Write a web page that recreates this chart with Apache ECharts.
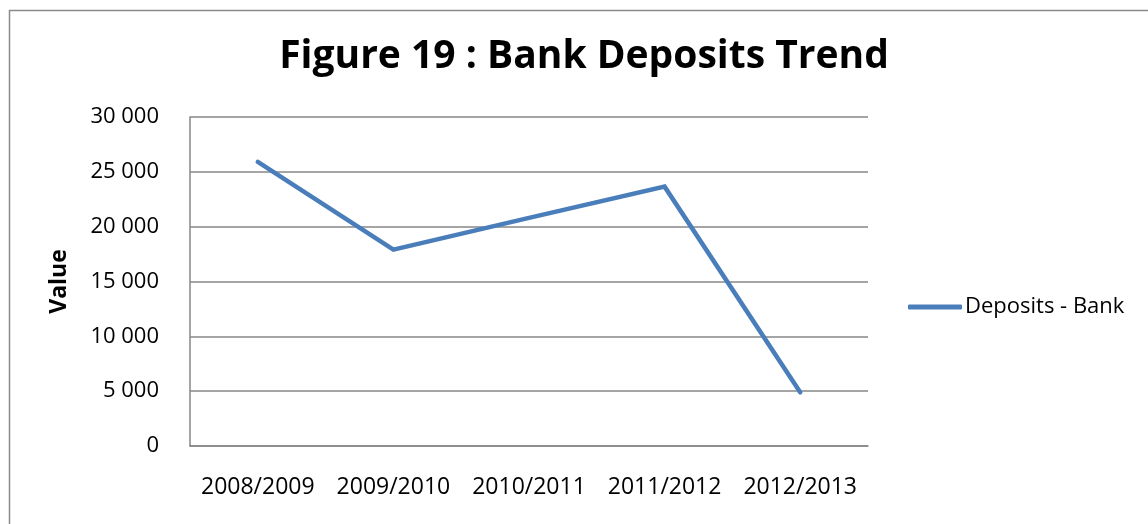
<!DOCTYPE html>
<html>
<head>
<meta charset="utf-8">
<style>
  html, body { margin: 0; padding: 0; background: #ffffff; }
  #chart { width: 1148px; height: 524px; }
</style>
<script src="https://cdn.jsdelivr.net/npm/echarts@6/dist/echarts.min.js"></script>
</head>
<body>
<div id="chart"></div>
<script>
const categories = ["2008/2009", "2009/2010", "2010/2011", "2011/2012", "2012/2013"];
const depositsBank = [25900, 17900, 20800, 23650, 4900];
const seriesName = "Deposits - Bank";
const titleText = "Figure 19 : Bank Deposits Trend";
const yAxisName = "Value";

function fmt(v) {
  return String(v).replace(/\B(?=(\d{3})+(?!\d))/g, " ");
}

const chart = echarts.init(document.getElementById('chart'), null, { renderer: 'canvas' });
const FONT = "'Open Sans', 'Noto Sans', sans-serif";
chart.setOption({
  backgroundColor: '#ffffff',
  animation: false,
  textStyle: { fontFamily: FONT },
  graphic: [{
    type: 'rect',
    left: 7, top: 8,
    shape: { width: 1160, height: 540 },
    style: { fill: 'none', stroke: '#8a8a8a', lineWidth: 1.5 },
    silent: true
  }],
  title: {
    text: titleText,
    left: 579,
    textAlign: 'center',
    top: 32,
    textStyle: { fontFamily: FONT, fontWeight: 'bold', fontSize: 39, color: '#000000' }
  },
  legend: {
    data: [seriesName],
    left: 903,
    top: 291,
    orient: 'vertical',
    icon: 'roundRect',
    itemWidth: 54,
    itemHeight: 5,
    itemGap: 0,
    textStyle: { fontFamily: FONT, fontSize: 22, color: '#000000', padding: [0, 0, 0, -2] }
  },
  grid: { left: 190, right: 280, top: 117, bottom: 78, containLabel: false },
  xAxis: {
    type: 'category',
    data: categories,
    boundaryGap: true,
    axisLine: { show: true, lineStyle: { color: '#878787', width: 1.5 } },
    axisTick: { show: false },
    axisLabel: { color: '#000000', fontSize: 23, margin: 30, fontFamily: FONT, interval: 0, hideOverlap: false },
    splitLine: { show: false }
  },
  yAxis: {
    type: 'value',
    min: 0, max: 30000, interval: 5000,
    name: yAxisName,
    nameLocation: 'middle',
    nameGap: 119,
    nameRotate: 90,
    nameTextStyle: { fontFamily: FONT, fontWeight: 'bold', fontSize: 23, color: '#000000' },
    axisLine: { show: true, lineStyle: { color: '#878787', width: 1.5 } },
    axisTick: { show: false },
    axisLabel: { color: '#000000', fontSize: 22, margin: 31, fontFamily: FONT, formatter: fmt },
    splitLine: { show: true, lineStyle: { color: '#878787', width: 1.5 } }
  },
  series: [{
    name: seriesName,
    type: 'line',
    data: depositsBank,
    symbol: 'none',
    lineStyle: { color: '#4A7EBB', width: 4.5, cap: 'round', join: 'miter' },
    itemStyle: { color: '#4A7EBB' }
  }]
});
</script>
</body>
</html>
